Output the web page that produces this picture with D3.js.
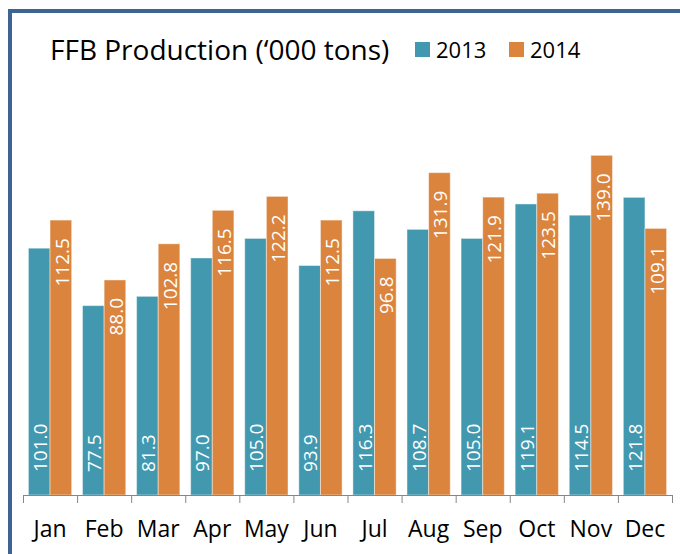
<!DOCTYPE html>
<html>
<head>
  <meta charset="utf-8">
  <style>
    body { margin: 0; background: #fff; }
    svg { display: block; font-family: "Open Sans", sans-serif; }
    .axis path, .axis line { stroke: #868686; }
    .barLabel { fill: #fff; font-size: 19px; }
  </style>
</head>
<body>
  <div id="chart"></div>
  <script src="https://cdn.jsdelivr.net/npm/d3@7"></script>
  <script>
    var months = ["Jan", "Feb", "Mar", "Apr", "May", "Jun", "Jul", "Aug", "Sep", "Oct", "Nov", "Dec"];
    var years = ["2013", "2014"];
    var prod2013 = [101.0, 77.5, 81.3, 97.0, 105.0, 93.9, 116.3, 108.7, 105.0, 119.1, 114.5, 121.8];
    var prod2014 = [112.5, 88.0, 102.8, 116.5, 122.2, 112.5, 96.8, 131.9, 121.9, 123.5, 139.0, 109.1];
    var colors = ["#4198AF", "#DB843D"];

    var width = 680,
      height = 554;

    var svg = d3.select("#chart").append("svg")
      .attr("width", width)
      .attr("height", height);

    // chart frame (only top and left edges visible)
    svg.append("rect")
      .attr("x", 10)
      .attr("y", 11)
      .attr("width", 720)
      .attr("height", 600)
      .attr("fill", "none")
      .attr("stroke", "#3E6496")
      .attr("stroke-width", 4);

    var x = d3.scaleBand()
      .domain(months)
      .range([23, 672])
      .paddingInner(0.2)
      .paddingOuter(0.1);

    var xYear = d3.scaleBand()
      .domain(years)
      .range([0, x.bandwidth()]);

    var y = d3.scaleLinear()
      .domain([0, 160])
      .range([495, 104]);

    var rows = months.map(function(m, i) {
      return {month: m, values: [prod2013[i], prod2014[i]]};
    });

    var groups = svg.selectAll(".month")
      .data(rows)
      .enter().append("g")
      .attr("class", "month")
      .attr("transform", function(d) { return "translate(" + x(d.month) + ",0)"; });

    var bars = groups.selectAll(".bar")
      .data(function(d) {
        return d.values.map(function(v, j) { return {year: years[j], idx: j, value: v}; });
      })
      .enter();

    bars.append("rect")
      .attr("class", "bar")
      .attr("x", function(d) { return xYear(d.year); })
      .attr("y", function(d) { return y(d.value); })
      .attr("width", xYear.bandwidth())
      .attr("height", function(d) { return y(0) - y(d.value); })
      .attr("fill", function(d) { return colors[d.idx]; })
      .attr("stroke", "rgba(255,255,255,0.45)")
      .attr("stroke-width", 1);

    // 2013 labels sit at the base, 2014 labels at the top of the bar
    bars.append("text")
      .attr("class", "barLabel")
      .attr("transform", function(d) {
        var cx = xYear(d.year) + xYear.bandwidth() / 2 + 1;
        var ty = d.idx == 0 ? y(0) - 23 : y(d.value) + 18;
        return "translate(" + cx + "," + ty + ") rotate(-90)";
      })
      .attr("dy", "0.36em")
      .attr("text-anchor", function(d) { return d.idx == 0 ? "start" : "end"; })
      .text(function(d) { return d.value.toFixed(1); });

    // axis: ticks between categories
    var tickScale = d3.scaleLinear()
      .domain([0, months.length])
      .range([23, 672]);

    svg.append("g")
      .attr("class", "axis")
      .attr("transform", "translate(0," + y(0) + ")")
      .call(d3.axisBottom(tickScale)
        .tickValues(d3.range(months.length + 1))
        .tickSize(8)
        .tickSizeOuter(0)
        .tickFormat(""));

    svg.append("g")
      .attr("transform", "translate(0," + y(0) + ")")
      .call(d3.axisBottom(x).tickSize(0).tickPadding(26))
      .call(function(g) { g.select(".domain").remove(); })
      .selectAll("text")
      .attr("font-family", "Open Sans, sans-serif")
      .attr("font-size", 23)
      .attr("fill", "#000");

    // title and legend
    svg.append("text")
      .attr("x", 50)
      .attr("y", 60)
      .attr("font-size", 28)
      .attr("fill", "#000")
      .text("FFB Production (\u2018000 tons)");

    var legend = svg.selectAll(".legend")
      .data(years)
      .enter().append("g")
      .attr("class", "legend")
      .attr("transform", function(d, i) { return "translate(" + (415 + i * 94) + ",42)"; });

    legend.append("rect")
      .attr("width", 15)
      .attr("height", 15)
      .attr("fill", function(d, i) { return colors[i]; });

    legend.append("text")
      .attr("x", 21)
      .attr("y", 15.5)
      .attr("font-size", 22)
      .attr("fill", "#000")
      .text(function(d) { return d; });
  </script>
</body>
</html>
